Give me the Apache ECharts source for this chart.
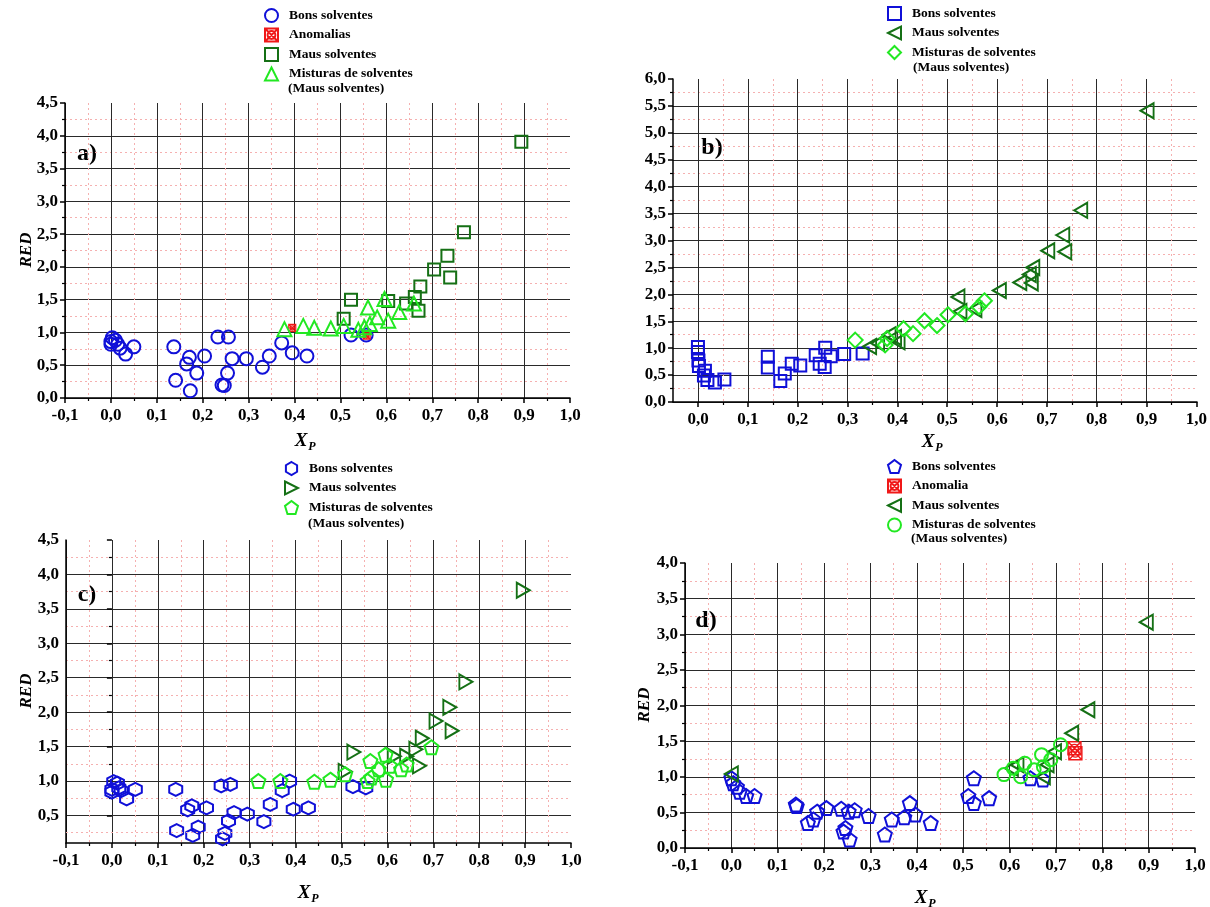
<!DOCTYPE html>
<html><head><meta charset="utf-8">
<script src="https://cdn.jsdelivr.net/npm/echarts@6/dist/echarts.min.js"></script>
<style>html,body{margin:0;padding:0;background:#fff}#c{width:1210px;height:907px}</style>
</head><body><div id="c"></div><script>
// ---------- DATA ----------
const aBons = [[0.0,0.82],[0.0,0.86],[0.003,0.92],[0.01,0.88],[0.015,0.82],[0.02,0.76],[0.032,0.67],[0.05,0.78],
  [0.137,0.78],[0.141,0.27],[0.165,0.52],[0.171,0.62],[0.173,0.11],[0.187,0.38],[0.204,0.64],[0.233,0.93],[0.256,0.93],
  [0.242,0.20],[0.247,0.19],[0.254,0.38],[0.264,0.60],[0.295,0.60],[0.330,0.47],[0.345,0.64],[0.372,0.84],[0.395,0.69],
  [0.427,0.64],[0.523,0.96],[0.556,0.96]];
const aAnom = [[0.395,1.07],[0.557,0.95]];
const aMaus = [[0.894,3.91],[0.769,2.53],[0.733,2.17],[0.704,1.96],[0.739,1.84],[0.674,1.70],[0.662,1.54],[0.643,1.44],
  [0.604,1.48],[0.523,1.50],[0.507,1.21],[0.670,1.33]];
const aMist = [[0.378,1.05],[0.419,1.10],[0.443,1.07],[0.479,1.06],[0.507,1.10],[0.539,1.04],[0.552,1.08],[0.560,1.38],
  [0.564,1.13],[0.580,1.23],[0.596,1.51],[0.604,1.18],[0.628,1.31],[0.660,1.44]];

const bBons = [[0.0,1.02],[0.0,0.93],[0.001,0.77],[0.002,0.67],[0.014,0.58],[0.012,0.49],[0.019,0.41],[0.034,0.36],[0.053,0.42],
  [0.140,0.84],[0.140,0.64],[0.165,0.39],[0.174,0.53],[0.188,0.71],[0.205,0.68],[0.236,0.87],[0.244,0.71],[0.254,0.65],
  [0.255,1.01],[0.266,0.85],[0.293,0.89],[0.330,0.90]];
const bMaus = [[0.900,5.41],[0.767,3.56],[0.731,3.10],[0.735,2.79],[0.701,2.81],[0.671,2.50],[0.664,2.37],[0.668,2.21],
  [0.645,2.22],[0.604,2.07],[0.521,1.95],[0.525,1.68],[0.555,1.72],[0.344,1.03],[0.360,1.09],[0.383,1.25],[0.394,1.20],[0.401,1.12]];
const bMist = [[0.315,1.15],[0.375,1.06],[0.379,1.18],[0.412,1.36],[0.431,1.27],[0.454,1.51],[0.479,1.42],[0.501,1.62],
  [0.536,1.64],[0.563,1.77],[0.574,1.88]];

const cBons = [[0.0,0.84],[0.0,0.88],[0.004,0.99],[0.012,0.97],[0.015,0.90],[0.02,0.86],[0.032,0.74],[0.051,0.88],
  [0.139,0.88],[0.141,0.28],[0.165,0.58],[0.174,0.64],[0.176,0.21],[0.188,0.33],[0.206,0.61],[0.238,0.93],[0.258,0.95],
  [0.241,0.16],[0.246,0.24],[0.254,0.42],[0.266,0.54],[0.295,0.52],[0.331,0.41],[0.345,0.66],[0.371,0.86],[0.387,1.0],
  [0.395,0.59],[0.428,0.61],[0.525,0.92],[0.553,0.90]];
const cMaus = [[0.896,3.77],[0.771,2.44],[0.736,2.07],[0.706,1.87],[0.741,1.73],[0.676,1.62],[0.662,1.46],[0.642,1.36],
  [0.615,1.36],[0.527,1.42],[0.508,1.14],[0.670,1.22]];
const cMist = [[0.319,1.0],[0.367,1.0],[0.441,0.99],[0.476,1.02],[0.508,1.10],[0.557,1.0],[0.565,1.05],[0.563,1.29],
  [0.581,1.17],[0.596,1.38],[0.597,1.02],[0.605,1.22],[0.63,1.17],[0.642,1.24],[0.696,1.49]];

const dBons = [[0.0,0.98],[0.004,0.91],[0.012,0.86],[0.018,0.79],[0.032,0.73],[0.05,0.73],[0.139,0.61],[0.141,0.59],
  [0.165,0.35],[0.177,0.40],[0.185,0.51],[0.205,0.56],[0.237,0.55],[0.242,0.23],[0.246,0.28],[0.255,0.12],[0.253,0.51],
  [0.266,0.53],[0.296,0.45],[0.331,0.19],[0.346,0.40],[0.373,0.43],[0.385,0.63],[0.397,0.47],[0.43,0.35],[0.511,0.73],
  [0.523,0.98],[0.523,0.63],[0.556,0.70],[0.645,0.98],[0.672,0.96]];
const dAnom = [[0.740,1.40],[0.742,1.33]];
const dMaus = [[0.0,1.04],[0.895,3.17],[0.769,1.94],[0.734,1.61],[0.604,1.12],[0.616,1.17],[0.673,1.0],[0.681,1.17],[0.697,1.35]];
const dMist = [[0.588,1.03],[0.608,1.12],[0.624,1.0],[0.633,1.19],[0.653,1.10],[0.669,1.31],[0.673,1.14],[0.689,1.24],[0.71,1.45]];

const panelLetters = ['a)','b)','c)','d)'];
const legendNames = ['Bons solventes','Anomalias','Anomalia','Maus solventes','Misturas de solventes','(Maus solventes)'];

// ---------- STYLE ----------
const F = 'Liberation Serif';
const BLUE = '#1010d8', DGREEN = '#157015', LGREEN = '#22e822', RED = '#f01818';
const fmt = v => (Math.round(v*10)/10).toFixed(1).replace('.', ',');
const SYM = {
  tri: 'triangle',
  triL: 'path://M0,50 L100,0 L100,100 Z',
  triR: 'path://M0,0 L100,50 L0,100 Z',
  pent: 'path://M50,0 L100,38 L81,100 L19,100 L0,38 Z',
  hex: 'path://M50,0 L93,25 L93,75 L50,100 L7,75 L7,25 Z',
  anom: 'path://M0,0 L100,0 L100,100 L0,100 Z M0,0 L100,100 M100,0 L0,100 M80,50 A30,30 0 1 1 20,50 A30,30 0 1 1 80,50 Z'
};
const labelStyle = {fontFamily: F, fontWeight: 'bold', fontSize: 17, color: '#000'};
const lineBlack = {color: '#000', width: 1.5};
const split = {show: true, showMaxLine: false, lineStyle: {color: '#2a2a2a', width: 1}};
const MINOR = {color: '#f5b0b0', width: 1, type: [2, 3]};
const minorSplit = {show: true, lineStyle: MINOR};
const minorTick = {show: true, splitNumber: 2, length: 3, lineStyle: {color: '#000', width: 1.2}};

function fullAxis(grid, min, max, isX, extra) {
  return Object.assign({
    type: 'value', gridIndex: grid, min, max, interval: isX ? 0.1 : 0.5,
    axisLine: {show: true, onZero: false, lineStyle: lineBlack},
    axisTick: {show: true, length: 5, lineStyle: lineBlack},
    minorTick: minorTick,
    axisLabel: Object.assign({formatter: fmt, margin: isX ? 9 : 7}, labelStyle),
    splitLine: split, minorSplitLine: minorSplit
  }, extra || {});
}
function lineOnly(grid, min, max) {
  return {type: 'value', gridIndex: grid, min, max, axisLine: {show: true, onZero: false, lineStyle: lineBlack},
    axisTick: {show: false}, axisLabel: {show: false}, splitLine: {show: false}};
}

function sc(name, data, xi, yi, symbol, color, size, bw) {
  return {type: 'scatter', name, data, xAxisIndex: xi, yAxisIndex: yi, symbol, symbolSize: size || 13,
    itemStyle: {color: 'rgba(255,255,255,0)', borderColor: color, borderWidth: bw || 2, opacity: 1},
    emphasis: {disabled: true}, silent: true};
}

const grids = [
  {left: 65, width: 505, top: 103, height: 295},        // a
  {left: 673, width: 524, top: 79, height: 323},        // b data (-0.05..1.0)
  {left: 698, width: 499, top: 79, height: 323},        // b ticks (0..1.0)
  {left: 66, width: 505, top: 540, height: 303},        // c data (y 0.1..4.5)
  {left: 66, width: 505, top: 540, height: 275.45},     // c ticks (y 0.5..4.5)
  {left: 685, width: 510, top: 563, height: 285}        // d
];

const xAxes = [
  fullAxis(0, -0.1, 1.0, true),
  lineOnly(1, -0.05, 1.0),
  fullAxis(2, 0, 1.0, true, {axisLine: {show: false}}),
  fullAxis(3, -0.1, 1.0, true),
  {type: 'value', gridIndex: 4, min: -0.1, max: 1.0, show: false},
  fullAxis(5, -0.1, 1.0, true)
];
const yAxes = [
  fullAxis(0, 0, 4.5, false),
  fullAxis(1, 0, 6.0, false),
  {type: 'value', gridIndex: 2, min: 0, max: 6, show: false},
  lineOnly(3, 0.1, 4.5),
  fullAxis(4, 0.5, 4.5, false, {axisLine: {show: false}}),
  fullAxis(5, 0, 4.0, false)
];

const cBonsSeries = sc('c|Bons solventes', cBons, 3, 3, SYM.hex, BLUE);
cBonsSeries.markLine = {silent: true, symbol: 'none', label: {show: false}, animation: false,
  lineStyle: MINOR, data: [{yAxis: 0.25}]};

const series = [
  sc('a|Bons solventes', aBons, 0, 0, 'circle', BLUE),
  sc('a|Anomalias', aAnom, 0, 0, SYM.anom, RED, 7, 1.2),
  sc('a|Maus solventes', aMaus, 0, 0, 'rect', DGREEN, 12),
  sc('a|Misturas de solventes', aMist, 0, 0, SYM.tri, LGREEN, 14),
  sc('b|Bons solventes', bBons, 1, 1, 'rect', BLUE, 12),
  sc('b|Maus solventes', bMaus, 1, 1, SYM.triL, DGREEN, [13, 15]),
  sc('b|Misturas de solventes', bMist, 1, 1, 'diamond', LGREEN, 15),
  cBonsSeries,
  sc('c|Maus solventes', cMaus, 3, 3, SYM.triR, DGREEN, [13, 15]),
  sc('c|Misturas de solventes', cMist, 3, 3, SYM.pent, LGREEN, 14),
  sc('d|Bons solventes', dBons, 5, 5, SYM.pent, BLUE, 14),
  sc('d|Anomalia', dAnom, 5, 5, SYM.anom, RED, 13, 1.4),
  sc('d|Maus solventes', dMaus, 5, 5, SYM.triL, DGREEN, [13, 15]),
  sc('d|Misturas de solventes', dMist, 5, 5, 'circle', LGREEN, 13)
];

function legend(prefix, names, left, top) {
  return {
    orient: 'vertical', left, top, padding: 0, itemGap: 4.5, itemWidth: 13, itemHeight: 13,
    selectedMode: false, data: names.map(n => prefix + '|' + n),
    formatter: n => n.split('|')[1],
    itemStyle: {borderWidth: 2, opacity: 1},
    textStyle: {fontFamily: F, fontWeight: 'bold', fontSize: 13.5, color: '#000', lineHeight: 14, padding: [0, 0, 0, 6]}
  };
}
const legends = [
  legend('a', [legendNames[0], legendNames[1], legendNames[3], legendNames[4]], 264, 8),
  legend('b', [legendNames[0], legendNames[3], legendNames[4]], 887, 6),
  legend('c', [legendNames[0], legendNames[3], legendNames[4]], 284, 461),
  legend('d', [legendNames[0], legendNames[2], legendNames[3], legendNames[4]], 887, 459)
];

function txt(text, x, y, font, rot) {
  return {type: 'text', x, y, rotation: rot || 0, silent: true,
    style: {text, font, fill: '#000', textAlign: 'center', textVerticalAlign: 'middle', align: 'center', verticalAlign: 'middle'}};
}
function leftTxt(text, x, y, font) {
  return {type: 'text', x, y, silent: true,
    style: {text, font, fill: '#000', textAlign: 'left', textVerticalAlign: 'middle', align: 'left', verticalAlign: 'middle'}};
}
const LF = 'bold 13.5px "Liberation Serif"';
const PF = 'bold 24px "Liberation Serif"';
const RF = 'italic bold 17px "Liberation Serif"';
const XF = 'italic bold 19px "Liberation Serif"';
const SF = 'italic bold 12px "Liberation Serif"';
function xp(cx, cy) { return [txt('X', cx - 4, cy, XF), txt('P', cx + 7, cy + 6, SF)]; }

const graphic = [
  leftTxt(legendNames[5], 288, 89, LF),
  leftTxt(legendNames[5], 913, 68, LF),
  leftTxt(legendNames[5], 308, 524, LF),
  leftTxt(legendNames[5], 911, 539, LF),
  txt(panelLetters[0], 87, 154, PF),
  txt(panelLetters[1], 712, 148, PF),
  txt(panelLetters[2], 87, 595, PF),
  txt(panelLetters[3], 706, 621, PF),
  txt('RED', 27, 250, RF, Math.PI / 2),
  txt('RED', 27, 691, RF, Math.PI / 2),
  txt('RED', 645, 705, RF, Math.PI / 2),
  ...xp(305, 441), ...xp(932, 442), ...xp(308, 893), ...xp(925, 898)
];

const chart = echarts.init(document.getElementById('c'), null, {renderer: 'canvas'});
chart.setOption({
  backgroundColor: '#fff', animation: false,
  grid: grids, xAxis: xAxes, yAxis: yAxes, series, legend: legends, graphic
});
</script></body></html>
